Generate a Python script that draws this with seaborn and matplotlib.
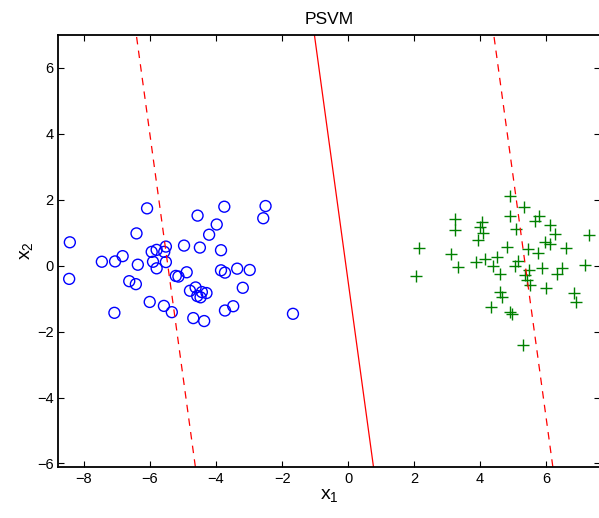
import numpy as np
import pandas as pd
import matplotlib
matplotlib.use('Agg')
import matplotlib.pyplot as plt
import seaborn as sns

# class -1 (blue circles)
neg_x = [-6.09, -4.56, -6.41, -4.21, -8.43, -5.52, -4.97, -4.49, -6.83, -5.95,
         -5.80, -5.57, -7.46, -7.06, -6.37, -5.91, -5.52, -5.80, -8.45, -6.63,
         -6.43, -5.22, -5.14, -4.89, -4.79, -4.62, -4.57, -4.47, -4.43, -4.29,
         -6.01, -5.58, -5.34, -7.08, -4.69, -4.36, -3.75, -2.50, -2.57, -3.98,
         -3.85, -3.85, -3.73, -3.36, -2.98, -3.19, -3.48, -3.73, -1.67]
neg_y = [1.74, 1.52, 0.98, 0.94, 0.71, 0.58, 0.61, 0.55, 0.29, 0.42,
         0.48, 0.42, 0.12, 0.13, 0.03, 0.12, 0.11, -0.08, -0.40, -0.47,
         -0.56, -0.31, -0.33, -0.20, -0.76, -0.66, -0.92, -0.96, -0.80, -0.83,
         -1.10, -1.22, -1.41, -1.43, -1.59, -1.68, 1.79, 1.81, 1.44, 1.25,
         0.47, -0.14, -0.21, -0.09, -0.13, -0.67, -1.23, -1.36, -1.46]

# class +1 (green crosses)
pos_x = [3.25, 3.24, 4.06, 3.99, 4.08, 3.95, 2.14, 3.11, 3.34, 3.87,
         4.15, 4.50, 4.38, 2.05, 4.32, 4.90, 5.33, 4.92, 5.79, 5.66,
         6.12, 5.08, 7.31, 6.27, 5.96, 6.12, 4.80, 6.60, 5.44, 5.74,
         5.15, 5.05, 5.86, 5.49, 7.18, 6.49, 4.60, 6.34, 5.36, 5.43,
         5.51, 5.99, 6.84, 6.90, 4.60, 4.65, 4.92, 4.98, 5.31]
pos_y = [1.42, 1.08, 1.32, 1.18, 0.98, 0.78, 0.53, 0.35, -0.05, 0.12,
         0.19, 0.27, -0.02, -0.30, -1.25, 2.12, 1.77, 1.51, 1.52, 1.35,
         1.22, 1.10, 0.92, 0.96, 0.73, 0.66, 0.56, 0.53, 0.51, 0.39,
         0.13, -0.01, -0.08, -0.13, 0.02, -0.08, -0.26, -0.26, -0.28, -0.43,
         -0.58, -0.67, -0.82, -1.09, -0.79, -0.94, -1.42, -1.47, -2.42]

# separating plane x = offset + slope*y : margin, decision, margin
line_offsets = [-5.46, -0.064, 5.37]
line_styles = ['--', '-', '--']
line_slope = -0.1365

xlim = (-8.78, 7.64)
ylim = (-6.1, 7.0)

sns.set_style('ticks')
plt.rcParams['font.family'] = ['Liberation Sans', 'DejaVu Sans']
plt.rcParams['mathtext.fontset'] = 'custom'
plt.rcParams['mathtext.rm'] = 'Liberation Sans'
plt.rcParams['text.color'] = 'black'
plt.rcParams['axes.labelcolor'] = 'black'

fig = plt.figure(figsize=(5.99, 5.18), dpi=100)
# right spine sits just past the image edge, as in the original
ax = fig.add_axes([0.0973, 0.099, 0.9048, 0.8334])

for off, ls in zip(line_offsets, line_styles):
    ys = np.array(ylim)
    seg = pd.DataFrame({'x': off + line_slope * ys, 'y': ys})
    sns.lineplot(data=seg, x='x', y='y', sort=False, color='red',
                 linewidth=0.9, ax=ax)
    ax.lines[-1].set_linestyle(ls)
    if ls == '--':
        ax.lines[-1].set_dashes([6, 5])

neg = pd.DataFrame({'x': neg_x, 'y': neg_y})
pos = pd.DataFrame({'x': pos_x, 'y': pos_y})
sns.scatterplot(data=neg, x='x', y='y', marker='o', s=62, facecolors='none',
                edgecolor='blue', linewidth=1.0, ax=ax)
sns.scatterplot(data=pos, x='x', y='y', marker='+', s=70, color='green',
                linewidth=1.0, ax=ax)

ax.set_xlim(xlim)
ax.set_ylim(ylim)
ax.set_xticks(range(-8, 7, 2))
ax.set_yticks(range(-6, 7, 2))
ax.tick_params(direction='in', length=4, width=0.8, labelsize=10.5,
               top=True, right=True, colors='black', labelcolor='black')
for sp in ax.spines.values():
    sp.set_linewidth(1.3)
    sp.set_color('black')

ax.set_title('PSVM', fontsize=12.5, pad=8, color='black')
ax.set_xlabel(r'$\mathregular{x_1}$', fontsize=14, labelpad=1)
ax.set_ylabel(r'$\mathregular{x_2}$', fontsize=14, labelpad=1)

fig.savefig('out.png', dpi=100)
